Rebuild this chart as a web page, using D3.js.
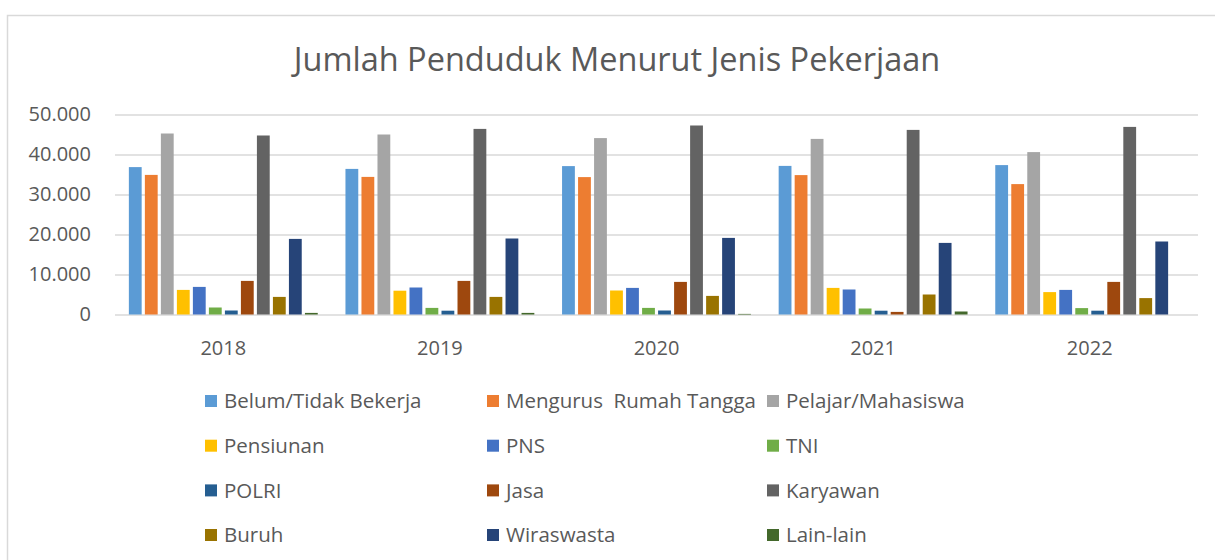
<!DOCTYPE html>
<html>
<head>
<meta charset="utf-8">
<script src="https://cdn.jsdelivr.net/npm/d3@7"></script>
<style>
  body { margin: 0; background: #fff; }
  svg { display: block; font-family: "Open Sans", sans-serif; }
  .axis text { fill: #595959; font-size: 20px; font-family: "Open Sans", sans-serif; }
  .legend text { fill: #595959; font-size: 20.5px; }
</style>
</head>
<body>
<script>
var years = ["2018", "2019", "2020", "2021", "2022"];
var jobs = ["Belum/Tidak Bekerja", "Mengurus  Rumah Tangga", "Pelajar/Mahasiswa", "Pensiunan", "PNS", "TNI",
            "POLRI", "Jasa", "Karyawan", "Buruh", "Wiraswasta", "Lain-lain"];
var colors = ["#5B9BD5", "#ED7D31", "#A5A5A5", "#FFC000", "#4472C4", "#70AD47",
              "#255E91", "#9E480E", "#636363", "#997300", "#264478", "#43682B"];
// one array per year, in the order of jobs
var v2018 = [36850, 34900, 45250, 6150, 6900, 1750, 1000, 8400, 44750, 4400, 18900, 400];
var v2019 = [36400, 34400, 45000, 5950, 6750, 1650, 950, 8400, 46400, 4400, 19000, 400];
var v2020 = [37100, 34350, 44100, 6000, 6650, 1650, 1000, 8150, 47250, 4650, 19150, 150];
var v2021 = [37150, 34850, 43900, 6650, 6250, 1500, 950, 650, 46150, 5000, 17900, 750];
var v2022 = [37350, 32600, 40600, 5600, 6150, 1600, 950, 8150, 46900, 4100, 18250, 0];
var yTicks = [0, 10000, 20000, 30000, 40000, 50000];

var values = [v2018, v2019, v2020, v2021, v2022];

var W = 1215, H = 560;
var plotLeft = 115, plotRight = 1198, plotTop = 114.5, plotBottom = 314.5;

var svg = d3.select("body").append("svg")
    .attr("width", W)
    .attr("height", H);

// chart frame (runs off the picture on the right and bottom)
svg.append("rect")
    .attr("x", 7.5).attr("y", 15.5)
    .attr("width", W + 20).attr("height", H + 20)
    .attr("fill", "#fff")
    .attr("stroke", "#d9d9d9")
    .attr("stroke-width", 1.5);

svg.append("text")
    .attr("x", 617)
    .attr("y", 71)
    .attr("text-anchor", "middle")
    .style("font-size", "32.5px")
    .style("fill", "#595959")
    .text("Jumlah Penduduk Menurut Jenis Pekerjaan");

var x0 = d3.scaleBand().domain(years).range([plotLeft, plotRight]).padding(0);
var gap = x0.bandwidth() * 0.064;
var x1 = d3.scaleBand().domain(jobs).range([gap, x0.bandwidth() - gap]).paddingInner(0.2).paddingOuter(0);
var y = d3.scaleLinear().domain([0, 50000]).range([plotBottom, plotTop]);

var fmt = d3.formatLocale({decimal: ",", thousands: ".", grouping: [3], currency: ["", ""]}).format(",d");

var yAxis = d3.axisLeft(y).tickValues(yTicks).tickFormat(fmt).tickSize(-(plotRight - plotLeft)).tickPadding(24);
var gy = svg.append("g")
    .attr("class", "y axis")
    .attr("transform", "translate(" + plotLeft + ",0)")
    .call(yAxis);
gy.select(".domain").remove();
gy.selectAll("line").attr("stroke", "#d9d9d9").attr("stroke-width", 1.5);

var xAxis = d3.axisBottom(x0).tickSize(0).tickPadding(26);
var gx = svg.append("g")
    .attr("class", "x axis")
    .attr("transform", "translate(0," + plotBottom + ")")
    .call(xAxis);
gx.select(".domain").remove();

var groups = svg.selectAll(".year")
    .data(years)
    .enter().append("g")
    .attr("class", "year")
    .attr("transform", function(d) { return "translate(" + x0(d) + ",0)"; });

groups.selectAll(".bar")
    .data(function(d, i) { return jobs.map(function(j, k) { return {job: j, k: k, v: values[i][k]}; }); })
    .enter().append("rect")
    .attr("class", "bar")
    .attr("x", function(d) { return x1(d.job); })
    .attr("width", x1.bandwidth())
    .attr("y", function(d) { return y(d.v); })
    .attr("height", function(d) { return plotBottom - y(d.v); })
    .attr("fill", function(d) { return colors[d.k]; });

// legend, 3 columns x 4 rows
var colX = [205, 487, 767], rowY = [401, 445.7, 490.4, 535];
var leg = svg.append("g").attr("class", "legend")
    .selectAll("g")
    .data(jobs)
    .enter().append("g")
    .attr("transform", function(d, i) { return "translate(" + colX[i % 3] + "," + rowY[Math.floor(i / 3)] + ")"; });
leg.append("rect")
    .attr("x", 0).attr("y", -6)
    .attr("width", 12).attr("height", 12)
    .attr("fill", function(d, i) { return colors[i]; });
leg.append("text")
    .attr("x", 19)
    .attr("dy", "0.35em")
    .style("white-space", "pre")
    .text(function(d) { return d; });
</script>
</body>
</html>
